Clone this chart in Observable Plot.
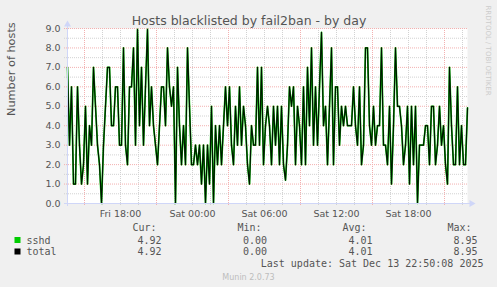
<!DOCTYPE html>
<html>
<head>
<meta charset="utf-8">
<script src="https://cdn.jsdelivr.net/npm/d3@7"></script>
<script src="https://cdn.jsdelivr.net/npm/@observablehq/plot@0.6"></script>
<style>
  html, body { margin: 0; padding: 0; background: #f0f0f0; }
  #chart { width: 497px; height: 287px; overflow: hidden; }
</style>
</head>
<body>
<div id="chart"></div>
<script>
// ---- data ----
const title = "Hosts blacklisted by fail2ban - by day";
const yLabel = "Number of hosts";
const startTime = "2025-12-12T13:35:00Z";   // first sample
const endTime = "2025-12-13T22:55:00Z";     // right edge of graph
const stepMinutes = 10;
const hosts = [
  7,3,6,1,1,6,3,1,2,5,
  1,4,3,7,5,3,2,0,3,5,
  7,7,4,4,6,6,3,3,8,3,
  2,6,6,8,3,8.95,4,7,3,6,
  8.95,4,6,4,3,2,4,6,6,4,
  8,6,5,6,0,7,4,2,4,2,
  8,5,2,2,3,2,3,1,3,0,
  3,1,5,0,4,2,4,2,4,6,
  4,6,3,2,5,3,6,3,5,4,
  2,1,4,3,3,7,3,7,2,4,
  5,4,2,5,3,5,2,5,2,1.2,
  3,6,5,6,2,5,4,2,6,2,
  7,4,8,3,6,3,6,8.8,4,5,
  2,5,8,2,6,6,3,5,4,5,
  4,4,4,6,4,3,6,2,3,8,
  8,4,3,5,3,4,4,8,3,3,
  2,5,1,4,8,5,5,4,2,3,
  5,1,5,2,5,0,3,3,3,4,
  4,2,5,5,2,3,5,3,4,2,
  1,7,4,2,2,6,2,4,2,2,
  4.92
];
const xTicks = ["2025-12-12T18:00:00Z","2025-12-13T00:00:00Z","2025-12-13T06:00:00Z","2025-12-13T12:00:00Z","2025-12-13T18:00:00Z"];
const xTickLabels = ["Fri 18:00","Sat 00:00","Sat 06:00","Sat 12:00","Sat 18:00"];
const yTicks = [0,1,2,3,4,5,6,7,8,9];
const seriesNames = ["sshd","total"];
const seriesColors = ["#00cc00","#000000"];
const statHeaders = ["Cur:","Min:","Avg:","Max:"];
const sshdStats = ["4.92","0.00","4.01","8.95"];
const totalStats = ["4.92","0.00","4.01","8.95"];
const lastUpdate = "Last update: Sat Dec 13 22:50:08 2025";
const footer = "Munin 2.0.73";
const watermark = "RRDTOOL / TOBI OETIKER";

// ---- derived ----
const t0 = new Date(startTime).getTime();
const data = hosts.map((v, i) => ({t: new Date(t0 + i * stepMinutes * 60000), v}));
const xDomain = [new Date(startTime), new Date(endTime)];
// grid: every 90 minutes from Fri 15:00, major every 6h
const gridStart = Date.UTC(2025, 11, 12, 15, 0);
const gridAll = d3.range(gridStart, new Date(endTime).getTime(), 90 * 60000);
const xMajor = gridAll.filter(t => ((t - gridStart) / 60000) % 360 === 0).map(t => new Date(t));
const xMinor = gridAll.filter(t => ((t - gridStart) / 60000) % 360 !== 0).map(t => new Date(t));
const yMinor = yTicks.slice(0, -1).map(v => v + 0.5);

const FONT = "#555555";
const AXIS = "#cfd6f8";
const MGRID = "#f3b0b0";
const GRID = "#d2d2d2";
const MONO = "DejaVu Sans Mono";

const L = 67, B = 203; // frame left & bottom (for legend offsets)
const headerX = [132, 237, 342, 447];
const valueX = [161, 266.5, 372, 477];
const rowY = [243, 254.5];
const swatchY = [239.5, 251];

const legendMarks = [];
statHeaders.forEach((h, j) => legendMarks.push(
  Plot.text([h], {text: d => d, frameAnchor: "bottom-left", dx: headerX[j] - L, dy: 230 - B,
    textAnchor: "start", lineAnchor: "bottom", fontFamily: MONO, fontSize: 10, fill: FONT})));
[sshdStats, totalStats].forEach((stats, r) => {
  legendMarks.push(Plot.dot([0], {frameAnchor: "bottom-left", dx: 17 - L, dy: swatchY[r] - B,
    symbol: "square", r: 3.4, fill: seriesColors[r], stroke: null}));
  legendMarks.push(Plot.text([seriesNames[r]], {text: d => d, frameAnchor: "bottom-left", dx: 26 - L, dy: rowY[r] - B,
    textAnchor: "start", lineAnchor: "bottom", fontFamily: MONO, fontSize: 10, fill: FONT}));
  stats.forEach((s, j) => legendMarks.push(
    Plot.text([s], {text: d => d, frameAnchor: "bottom-left", dx: valueX[j] - L, dy: rowY[r] - B,
      textAnchor: "end", lineAnchor: "bottom", fontFamily: MONO, fontSize: 10, fill: FONT})));
});
legendMarks.push(Plot.text([lastUpdate], {text: d => d, frameAnchor: "bottom-left", dx: 483 - L, dy: 266.5 - B,
  textAnchor: "end", lineAnchor: "bottom", fontFamily: MONO, fontSize: 10, fill: FONT}));
legendMarks.push(Plot.text([footer], {text: d => d, frameAnchor: "bottom-left", dx: 248 - L, dy: 279 - B,
  textAnchor: "middle", lineAnchor: "bottom", fontSize: 8, fill: "#bdbdbd"}));

const chart = Plot.plot({
  width: 497,
  height: 287,
  marginLeft: 67,
  marginRight: 30,
  marginTop: 28,
  marginBottom: 84,
  style: {background: "#f0f0f0", fontFamily: "DejaVu Sans", overflow: "visible"},
  x: {type: "utc", domain: xDomain, axis: null},
  y: {domain: [0, 9], axis: null},
  marks: [
    Plot.frame({fill: "#ffffff", stroke: null}),
    Plot.ruleY(yMinor, {stroke: GRID, strokeDasharray: "1,1", insetLeft: -3}),
    Plot.ruleX(xMinor, {stroke: GRID, strokeDasharray: "1,1", insetBottom: -3}),
    Plot.ruleY(yTicks, {stroke: MGRID, strokeDasharray: "1,1", insetLeft: -3}),
    Plot.ruleX(xMajor, {stroke: MGRID, strokeDasharray: "1,1", insetBottom: -3}),
    Plot.line(data, {x: "t", y: "v", stroke: seriesColors[0], strokeWidth: 1.7}),
    Plot.line(data, {x: "t", y: "v", stroke: seriesColors[1], strokeWidth: 1.2, strokeOpacity: 0.9}),
    // axes
    Plot.ruleY([0], {stroke: AXIS, insetLeft: -3, insetRight: -4}),
    Plot.ruleX([xDomain[0]], {stroke: AXIS, insetBottom: -3, insetTop: -4}),
    Plot.dot([0], {frameAnchor: "bottom-right", dx: 4, symbol: "triangle", r: 2.6, rotate: 90, fill: AXIS, stroke: null}),
    Plot.dot([0], {frameAnchor: "top-left", dy: -4, symbol: "triangle", r: 2.6, fill: AXIS, stroke: null}),
    // tick labels
    Plot.text(yTicks, {y: d => d, text: d => d.toFixed(1), frameAnchor: "left", dx: -7,
      textAnchor: "end", lineAnchor: "middle", fontSize: 9.5, fill: FONT}),
    Plot.text(xTicks, {x: d => new Date(d), text: (d, i) => xTickLabels[i], frameAnchor: "bottom", dy: 13.5,
      lineAnchor: "bottom", fontSize: 9.5, fill: FONT}),
    // title, y label, watermark
    Plot.text([title], {text: d => d, frameAnchor: "top", dx: 248.5 - 267, dy: -4,
      lineAnchor: "bottom", fontSize: 12.5, fill: FONT}),
    Plot.text([yLabel], {text: d => d, frameAnchor: "left", dx: 14 - L, rotate: -90,
      lineAnchor: "bottom", fontSize: 11.3, fill: FONT}),
    Plot.text([watermark], {text: d => d, frameAnchor: "top-right", dx: 485 - 467, dy: 5 - 28, rotate: 90,
      textAnchor: "start", lineAnchor: "bottom", fontSize: 7, fill: "#cccccc"}),
    ...legendMarks
  ]
});
document.getElementById("chart").appendChild(chart);
</script>
</body>
</html>
